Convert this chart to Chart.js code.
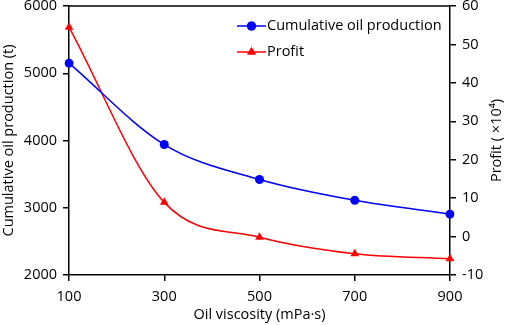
<!DOCTYPE html>
<html>
<head>
<meta charset="utf-8">
<script src="https://cdn.jsdelivr.net/npm/chart.js@4.4.0/dist/chart.umd.min.js"></script>
<style>
html,body{margin:0;padding:0;background:#fff;}
#wrap{width:505px;height:325px;position:relative;}
</style>
</head>
<body>
<div id="wrap"><canvas id="c" width="505" height="325"></canvas></div>
<script>
const viscosity = ['100', '300', '500', '700', '900'];
const cumulativeOil = [5150, 3940, 3420, 3110, 2905];
const profit = [54.5, 8.9, -0.2, -4.5, -5.8];
const leftTicks = [2000, 3000, 4000, 5000, 6000];
const rightTicks = [-10, 0, 10, 20, 30, 40, 50, 60];

const FONT = 'Open Sans';
const FS = 14.5;

const frame = {
  id: 'frame',
  afterDraw(chart) {
    const {ctx, chartArea: a} = chart;
    ctx.save();
    ctx.strokeStyle = '#000';
    ctx.lineWidth = 1.5;
    ctx.beginPath();
    ctx.moveTo(a.left, a.top);
    ctx.lineTo(a.right, a.top);
    ctx.stroke();
    // right axis title, reading bottom to top
    ctx.fillStyle = '#000';
    ctx.font = FS + 'px "' + FONT + '"';
    ctx.translate(497, (a.top + a.bottom) / 2);
    ctx.rotate(-Math.PI / 2);
    ctx.textAlign = 'center';
    ctx.textBaseline = 'middle';
    ctx.fillText('Profit ( ×10⁴)', 0, 0);
    ctx.restore();

    // legend
    ctx.save();
    ctx.font = FS + 'px "' + FONT + '"';
    ctx.textBaseline = 'middle';
    ctx.textAlign = 'left';
    const x0 = 237, x1 = 266, ys = [26, 52];
    chart.data.datasets.forEach((ds, i) => {
      const y = ys[i];
      ctx.strokeStyle = ds.borderColor;
      ctx.lineWidth = 1.5;
      ctx.beginPath(); ctx.moveTo(x0, y); ctx.lineTo(x1, y); ctx.stroke();
      ctx.fillStyle = ds.borderColor;
      Chart.helpers.drawPoint(ctx, {pointStyle: ds.pointStyle, radius: ds.pointRadius, rotation: 0, borderWidth: 0}, (x0 + x1) / 2, y);
      ctx.fill();
      ctx.fillStyle = '#000';
      ctx.fillText(ds.label, x1 + 1, y);
    });
    ctx.restore();
  }
};

function noPad(s) { s.paddingTop = 0; s.paddingBottom = 0; }

new Chart(document.getElementById('c'), {
  type: 'line',
  data: {
    labels: viscosity,
    datasets: [
      {
        label: 'Cumulative oil production',
        data: cumulativeOil,
        yAxisID: 'y',
        borderColor: '#0000ff',
        backgroundColor: '#0000ff',
        borderWidth: 1.5,
        pointStyle: 'circle',
        pointRadius: 4.5,
        pointBorderWidth: 0,
        cubicInterpolationMode: 'monotone'
      },
      {
        label: 'Profit',
        data: profit,
        yAxisID: 'y1',
        borderColor: '#ff0000',
        backgroundColor: '#ff0000',
        borderWidth: 1.5,
        pointStyle: 'triangle',
        pointRadius: 5,
        pointBorderWidth: 0,
        cubicInterpolationMode: 'monotone'
      }
    ]
  },
  options: {
    responsive: false,
    animation: false,
    layout: {padding: {top: 6, right: 0, left: 0, bottom: 0}},
    plugins: {legend: {display: false}, tooltip: {enabled: false}},
    scales: {
      x: {
        type: 'category',
        offset: false,
        grid: {display: true, drawOnChartArea: false, drawTicks: true, tickLength: 6, color: '#000', lineWidth: 1.5},
        border: {display: true, color: '#000', width: 1.5},
        ticks: {color: '#000', font: {family: FONT, size: FS}, padding: 7, maxRotation: 0},
        title: {display: true, text: 'Oil viscosity (mPa·s)', color: '#000', font: {family: FONT, size: FS}, padding: {top: 0, bottom: 1}},
        afterFit(s) { s.height = 50; }
      },
      y: {
        position: 'left',
        min: 2000, max: 6000,
        afterBuildTicks(s) { s.ticks = leftTicks.map(v => ({value: v})); },
        grid: {display: true, drawOnChartArea: false, drawTicks: true, tickLength: 6, color: '#000', lineWidth: 1.5},
        border: {display: true, color: '#000', width: 1.5},
        ticks: {color: '#000', font: {family: FONT, size: FS}, padding: 6, callback: v => String(v)},
        title: {display: true, text: 'Cumulative oil production (t)', color: '#000', font: {family: FONT, size: FS}, padding: 0},
        afterFit(s) { s.width = 69; noPad(s); }
      },
      y1: {
        position: 'right',
        min: -10, max: 60,
        afterBuildTicks(s) { s.ticks = rightTicks.map(v => ({value: v})); },
        grid: {display: true, drawOnChartArea: false, drawTicks: true, tickLength: 6, color: '#000', lineWidth: 1.5},
        border: {display: true, color: '#000', width: 1.5},
        ticks: {color: '#000', font: {family: FONT, size: FS}, padding: 6, callback: v => String(v)},
        afterFit(s) { s.width = 55; noPad(s); }
      }
    }
  },
  plugins: [frame]
});
</script>
</body>
</html>
